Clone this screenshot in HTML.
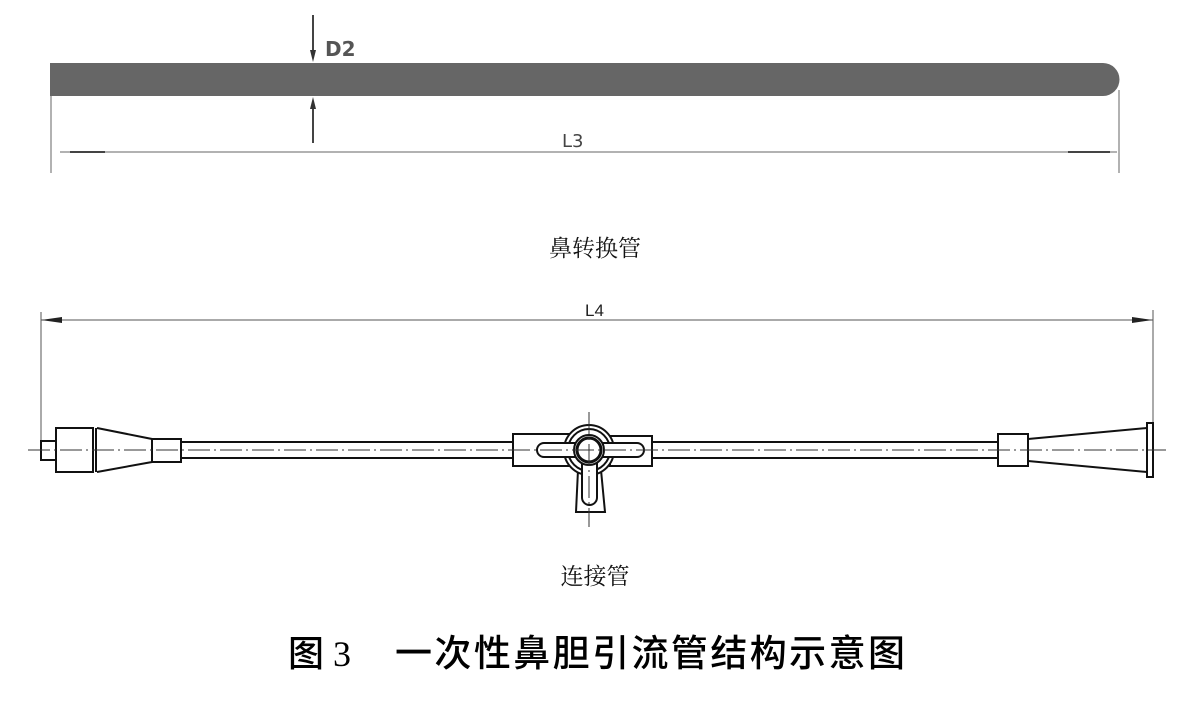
<!DOCTYPE html>
<html><head><meta charset="utf-8"><style>
html,body{margin:0;padding:0;background:#fff;width:1177px;height:703px;overflow:hidden}
</style></head><body>
<svg width="1177" height="703" viewBox="0 0 1177 703" xmlns="http://www.w3.org/2000/svg">
<path d="M50 63 H1103 A16.5 16.5 0 0 1 1103 96 H50 Z" fill="#666"/>
<g stroke="#999" stroke-width="1.5" fill="none">
<line x1="51" y1="96" x2="51" y2="173"/>
<line x1="1119" y1="90" x2="1119" y2="173"/>
<line x1="60" y1="152" x2="1117" y2="152"/>
</g>
<g stroke="#444" stroke-width="2">
<line x1="70" y1="152" x2="105" y2="152"/>
<line x1="1068" y1="152" x2="1110" y2="152"/>
<line x1="313" y1="15" x2="313" y2="55"/>
<line x1="313" y1="104" x2="313" y2="143"/>
</g>
<polygon points="310,50 316,50 313,62" fill="#333"/>
<polygon points="310,109 316,109 313,97" fill="#333"/>
<text x="325" y="56" font-family="DejaVu Sans,sans-serif" font-size="20" font-weight="bold" fill="#555">D2</text>
<text x="562" y="147" font-family="DejaVu Sans,sans-serif" font-size="18" fill="#444">L3</text>
<text x="595" y="256" text-anchor="middle" font-family="Noto Serif CJK SC,serif" font-size="23" fill="#111">鼻转换管</text>

<g stroke="#555" stroke-width="1" fill="none">
<line x1="41" y1="312" x2="41" y2="445"/>
<line x1="1153" y1="310" x2="1153" y2="425"/>
<line x1="41" y1="320" x2="1153" y2="320"/>
</g>
<polygon points="41,320 62,317 62,323" fill="#222"/>
<polygon points="1153,320 1132,317 1132,323" fill="#222"/>
<text x="585" y="316" font-family="Liberation Sans,sans-serif" font-size="17" fill="#222">L4</text>

<g stroke="#111" stroke-width="2" fill="none">
<rect x="41" y="441" width="15" height="19"/>
<rect x="56" y="428" width="37" height="44"/>
<line x1="96" y1="428" x2="96" y2="472"/>
<polyline points="97,428 152,439 152,462 97,472"/>
<rect x="152" y="439" width="29" height="23"/>
<line x1="181" y1="442" x2="513" y2="442"/>
<line x1="181" y1="458" x2="513" y2="458"/>
<rect x="513" y="434" width="56" height="32" fill="#fff"/>
<polygon points="610,436 652,436 652,466 610,466" fill="#fff"/>
<line x1="652" y1="442" x2="998" y2="442"/>
<line x1="652" y1="458" x2="998" y2="458"/>
<rect x="998" y="434" width="30" height="32" fill="#fff"/>
<polyline points="1028,439 1147,428 1147,472 1028,461"/>
<rect x="1147" y="423" width="6" height="54" fill="#fff"/>
<polygon points="578,470 601,470 605,512 576,512" fill="#fff"/>
<circle cx="589" cy="450" r="25" fill="#fff"/>
<circle cx="589" cy="450" r="21"/>
<rect x="537" y="443" width="107" height="14" rx="7" fill="#fff"/>
<rect x="582" y="455" width="15" height="50" rx="7.5" fill="#fff"/>
<circle cx="589" cy="450" r="15" fill="#fff"/>
<circle cx="589" cy="450" r="12" stroke-width="3"/>
</g>
<g stroke="#333" stroke-width="1" stroke-dasharray="22,4,2,4" fill="none">
<line x1="28" y1="450" x2="1166" y2="450"/>
<line x1="589" y1="412" x2="589" y2="527"/>
</g>
<text x="595" y="584" text-anchor="middle" font-family="Noto Serif CJK SC,serif" font-size="23" fill="#111">连接管</text>
<text x="288" y="666" font-family="Noto Sans CJK SC,sans-serif" font-size="36" font-weight="500" fill="#000">图</text>
<text x="333" y="666" font-family="Liberation Serif,serif" font-size="36" fill="#000">3</text>
<text x="395" y="666" textLength="510" lengthAdjust="spacing" font-family="Noto Sans CJK SC,sans-serif" font-size="37" font-weight="500" fill="#000">一次性鼻胆引流管结构示意图</text>
</svg>
</body></html>
